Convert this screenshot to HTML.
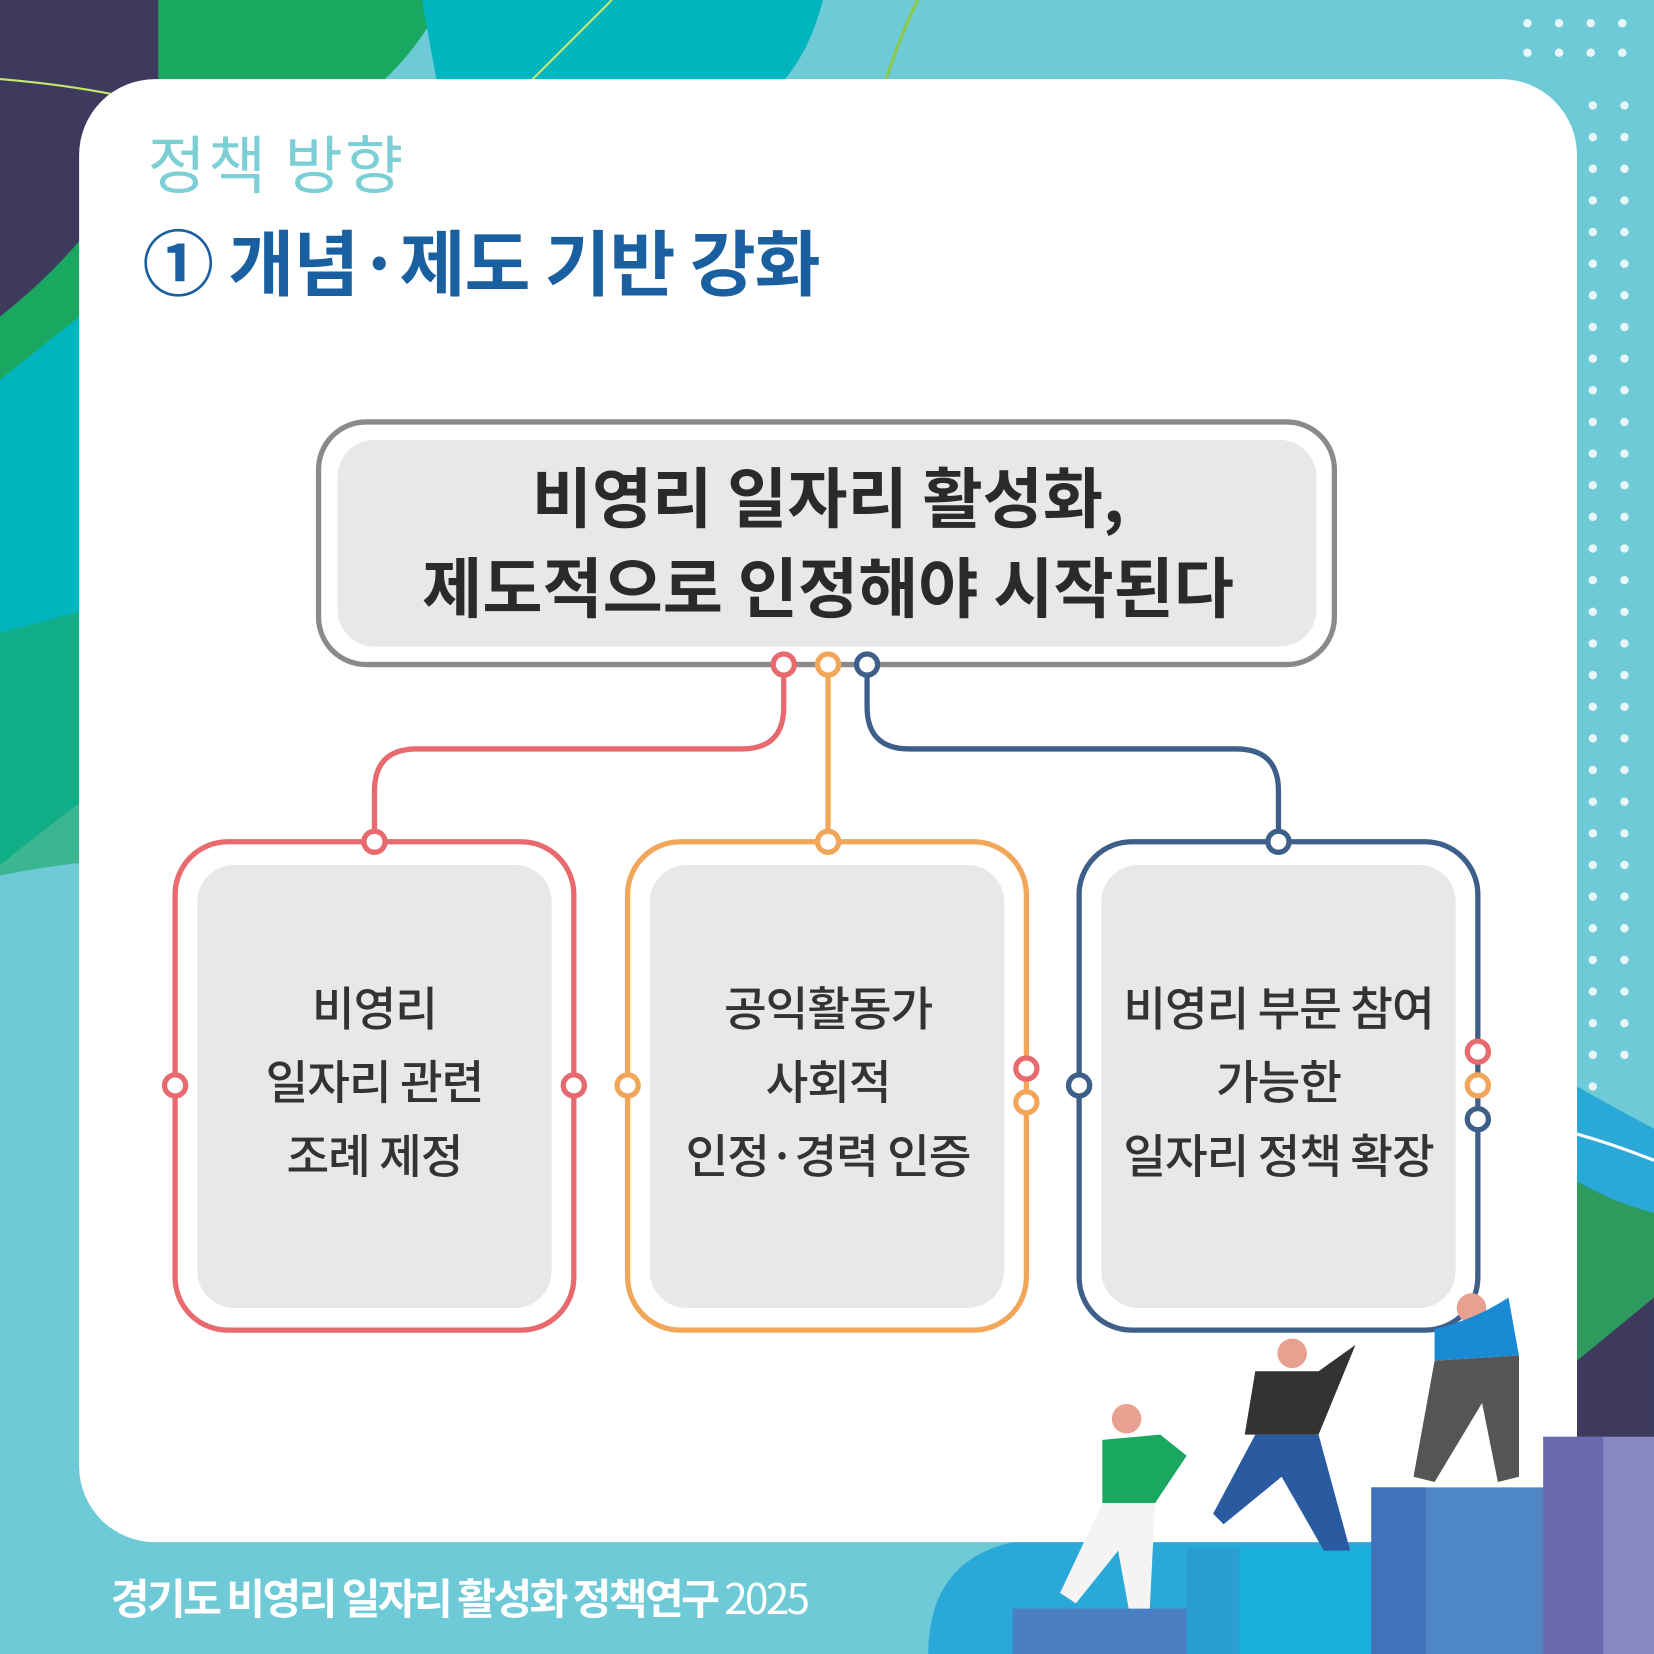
<!DOCTYPE html>
<html><head><meta charset="utf-8"><style>
html,body{margin:0;padding:0;background:#6ecad6;}
svg{display:block}
text{font-family:"Noto Sans CJK KR","NanumGothic",sans-serif;}
</style></head><body>
<svg width="1654" height="1654" viewBox="0 0 1568 1568" xmlns="http://www.w3.org/2000/svg">
<rect width="1568" height="1568" fill="#6ecad6"/>
<path d="M0,0 H170 L160,300 L0,360 Z" fill="#3d3a5e"/>
<path d="M150,0 H420 Q380,80 300,120 L0,380 V300 Q90,230 150,120 Z" fill="#1aa860"/>
<path d="M400,0 H780 Q760,80 700,110 L420,110 Z" fill="#00b5bd"/>
<path d="M0,360 L300,120 L300,600 Q150,700 0,820 Z" fill="#00b5bd"/>
<path d="M0,600 Q150,560 300,520 V820 Q150,800 0,830 Z" fill="#1aa860" opacity="0.6"/>
<path d="M0,75 Q60,80 110,90" stroke="#c8e86a" stroke-width="2" fill="none"/>
<path d="M505,75 Q550,30 580,0" stroke="#c8e86a" stroke-width="2" fill="none"/>
<path d="M840,75 Q855,30 870,0" stroke="#8cc850" stroke-width="3" fill="none"/>
<path d="M1495,1030 Q1530,1050 1568,1070 V1568 H1495 Z" fill="#2aa8d8"/>
<path d="M1495,1120 Q1530,1140 1568,1150 V1568 H1495 Z" fill="#2f9a5e"/>
<path d="M1495,1290 L1568,1230 V1568 H1495 Z" fill="#3d3a5e"/>
<path d="M1495,1075 Q1530,1085 1568,1100" stroke="#fff" stroke-width="3" fill="none"/>
<g fill="#e8f6f8">
<circle cx="1448" cy="22" r="4"/><circle cx="1478" cy="22" r="4"/><circle cx="1508" cy="22" r="4"/><circle cx="1538" cy="22" r="4"/>
<circle cx="1448" cy="50" r="4"/><circle cx="1478" cy="50" r="4"/><circle cx="1508" cy="50" r="4"/><circle cx="1538" cy="50" r="4"/>
</g>
<g fill="#e8f6f8">
<circle cx="1510" cy="100" r="4"/><circle cx="1540" cy="100" r="4"/><circle cx="1510" cy="130" r="4"/><circle cx="1540" cy="130" r="4"/>
<circle cx="1510" cy="160" r="4"/><circle cx="1540" cy="160" r="4"/><circle cx="1510" cy="190" r="4"/><circle cx="1540" cy="190" r="4"/>
<circle cx="1510" cy="220" r="4"/><circle cx="1540" cy="220" r="4"/><circle cx="1510" cy="250" r="4"/><circle cx="1540" cy="250" r="4"/>
<circle cx="1510" cy="280" r="4"/><circle cx="1540" cy="280" r="4"/><circle cx="1510" cy="310" r="4"/><circle cx="1540" cy="310" r="4"/>
<circle cx="1510" cy="340" r="4"/><circle cx="1540" cy="340" r="4"/><circle cx="1510" cy="370" r="4"/><circle cx="1540" cy="370" r="4"/>
<circle cx="1510" cy="400" r="4"/><circle cx="1540" cy="400" r="4"/><circle cx="1510" cy="430" r="4"/><circle cx="1540" cy="430" r="4"/>
<circle cx="1510" cy="460" r="4"/><circle cx="1540" cy="460" r="4"/><circle cx="1510" cy="490" r="4"/><circle cx="1540" cy="490" r="4"/>
<circle cx="1510" cy="520" r="4"/><circle cx="1540" cy="520" r="4"/><circle cx="1510" cy="550" r="4"/><circle cx="1540" cy="550" r="4"/>
<circle cx="1510" cy="580" r="4"/><circle cx="1540" cy="580" r="4"/><circle cx="1510" cy="610" r="4"/><circle cx="1540" cy="610" r="4"/>
<circle cx="1510" cy="640" r="4"/><circle cx="1540" cy="640" r="4"/><circle cx="1510" cy="670" r="4"/><circle cx="1540" cy="670" r="4"/>
<circle cx="1510" cy="700" r="4"/><circle cx="1540" cy="700" r="4"/><circle cx="1510" cy="730" r="4"/><circle cx="1540" cy="730" r="4"/>
<circle cx="1510" cy="760" r="4"/><circle cx="1540" cy="760" r="4"/><circle cx="1510" cy="790" r="4"/><circle cx="1540" cy="790" r="4"/>
<circle cx="1510" cy="820" r="4"/><circle cx="1540" cy="820" r="4"/><circle cx="1510" cy="850" r="4"/><circle cx="1540" cy="850" r="4"/>
<circle cx="1510" cy="880" r="4"/><circle cx="1540" cy="880" r="4"/><circle cx="1510" cy="910" r="4"/><circle cx="1540" cy="910" r="4"/>
<circle cx="1510" cy="940" r="4"/><circle cx="1540" cy="940" r="4"/><circle cx="1510" cy="970" r="4"/><circle cx="1540" cy="970" r="4"/>
<circle cx="1510" cy="1000" r="4"/><circle cx="1540" cy="1000" r="4"/><circle cx="1510" cy="1030" r="4"/>
</g>
<path d="M880,1568 Q880,1480 960,1462 H1495 V1568 Z" fill="#2aa8d8"/>
<rect x="75" y="75" width="1420" height="1387" rx="72" fill="#fff"/>

<text x="140" y="178" font-size="60" fill="#7dcfd6" letter-spacing="2">정책 방향</text>
<text x="135" y="275" font-size="68" font-weight="bold" fill="#1a5fa0" letter-spacing="-1">① 개념·제도 기반 강화</text>

<rect x="302" y="400" width="963" height="230" rx="45" fill="#fff" stroke="#8a8a8a" stroke-width="5"/>
<rect x="320" y="417" width="928" height="196" rx="35" fill="#e8e8e8"/>
<text x="785" y="495" font-size="62" font-weight="bold" fill="#2a2a2a" text-anchor="middle">비영리 일자리 활성화,</text>
<text x="785" y="580" font-size="62" font-weight="bold" fill="#2a2a2a" text-anchor="middle">제도적으로 인정해야 시작된다</text>

<path d="M743,640 V670 Q743,710 703,710 H395 Q355,710 355,750 V790" stroke="#e86a6e" stroke-width="5" fill="none"/>
<path d="M785,640 V790" stroke="#f2a65a" stroke-width="5" fill="none"/>
<path d="M822,640 V670 Q822,710 862,710 H1172 Q1212,710 1212,750 V790" stroke="#3d5f8a" stroke-width="5" fill="none"/>
<circle cx="743" cy="630" r="10" fill="#fff" stroke="#e86a6e" stroke-width="5"/>
<circle cx="785" cy="630" r="10" fill="#fff" stroke="#f2a65a" stroke-width="5"/>
<circle cx="822" cy="630" r="10" fill="#fff" stroke="#3d5f8a" stroke-width="5"/>

<rect x="166" y="798" width="378" height="463" rx="50" fill="#fff" stroke="#e86a6e" stroke-width="5"/>
<rect x="187" y="820" width="336" height="420" rx="35" fill="#e8e8e8"/>
<rect x="595" y="798" width="378" height="463" rx="50" fill="#fff" stroke="#f2a65a" stroke-width="5"/>
<rect x="616" y="820" width="336" height="420" rx="35" fill="#e8e8e8"/>
<rect x="1023" y="798" width="378" height="463" rx="50" fill="#fff" stroke="#3d5f8a" stroke-width="5"/>
<rect x="1044" y="820" width="336" height="420" rx="35" fill="#e8e8e8"/>

<circle cx="355" cy="798" r="10" fill="#fff" stroke="#e86a6e" stroke-width="5"/>
<circle cx="785" cy="798" r="10" fill="#fff" stroke="#f2a65a" stroke-width="5"/>
<circle cx="1212" cy="798" r="10" fill="#fff" stroke="#3d5f8a" stroke-width="5"/>

<g stroke-width="5" fill="#fff">
<circle cx="166" cy="1029" r="10" stroke="#e86a6e"/>
<circle cx="544" cy="1029" r="10" stroke="#e86a6e"/>
<circle cx="595" cy="1029" r="10" stroke="#f2a65a"/>
<circle cx="973" cy="1013" r="10" stroke="#e86a6e"/>
<circle cx="973" cy="1045" r="10" stroke="#f2a65a"/>
<circle cx="1023" cy="1029" r="10" stroke="#3d5f8a"/>
<circle cx="1401" cy="997" r="10" stroke="#e86a6e"/>
<circle cx="1401" cy="1029" r="10" stroke="#f2a65a"/>
<circle cx="1401" cy="1061" r="10" stroke="#3d5f8a"/>
</g>

<g font-size="44" font-weight="500" fill="#333" text-anchor="middle" letter-spacing="-1">
<text x="355" y="972">비영리</text>
<text x="355" y="1042">일자리 관련</text>
<text x="355" y="1112">조례 제정</text>
<text x="785" y="972">공익활동가</text>
<text x="785" y="1042">사회적</text>
<text x="785" y="1112">인정·경력 인증</text>
<text x="1212" y="972">비영리 부문 참여</text>
<text x="1212" y="1042">가능한</text>
<text x="1212" y="1112">일자리 정책 확장</text>
</g>

<path d="M960,1525 H1140 V1568 H960 Z" fill="#4a7fc4"/>
<path d="M1125,1468 H1325 V1568 H1125 Z" fill="#18b0dc"/>
<path d="M1125,1468 H1175 V1568 H1125 Z" fill="#2a9ed0"/>
<path d="M1300,1410 H1505 V1568 H1300 Z" fill="#4f86c6"/>
<path d="M1300,1410 H1352 V1568 H1300 Z" fill="#3f72b8"/>
<path d="M1463,1362 H1568 V1568 H1463 Z" fill="#8a88c2"/>
<path d="M1463,1362 H1520 V1568 H1463 Z" fill="#6a6ab0"/>
<circle cx="1395" cy="1240" r="14" fill="#e8a090"/>
<path d="M1360,1260 Q1400,1250 1430,1230 L1440,1285 L1360,1290 Z" fill="#1a8ad4"/>
<path d="M1360,1290 L1440,1285 L1440,1400 L1420,1405 L1405,1330 L1360,1405 L1340,1400 Z" fill="#555"/>
<circle cx="1225" cy="1283" r="14" fill="#e8a090"/>
<path d="M1190,1300 L1250,1300 L1285,1275 L1250,1360 L1180,1360 Z" fill="#333"/>
<path d="M1190,1360 L1250,1360 L1280,1470 L1255,1470 L1215,1400 L1160,1445 L1150,1435 Z" fill="#2a5aa0"/>
<circle cx="1068" cy="1345" r="14" fill="#e8a090"/>
<path d="M1045,1365 L1100,1360 L1125,1380 L1095,1425 L1045,1425 Z" fill="#1aa860"/>
<path d="M1045,1425 L1095,1425 L1090,1525 L1070,1525 L1060,1470 L1020,1520 L1005,1510 Z" fill="#f4f4f4"/>

<text x="105" y="1530" font-size="40" font-weight="bold" fill="#fff" letter-spacing="-2.5">경기도 비영리 일자리 활성화 정책연구 <tspan font-weight="normal">2025</tspan></text>
</svg>
</body></html>
